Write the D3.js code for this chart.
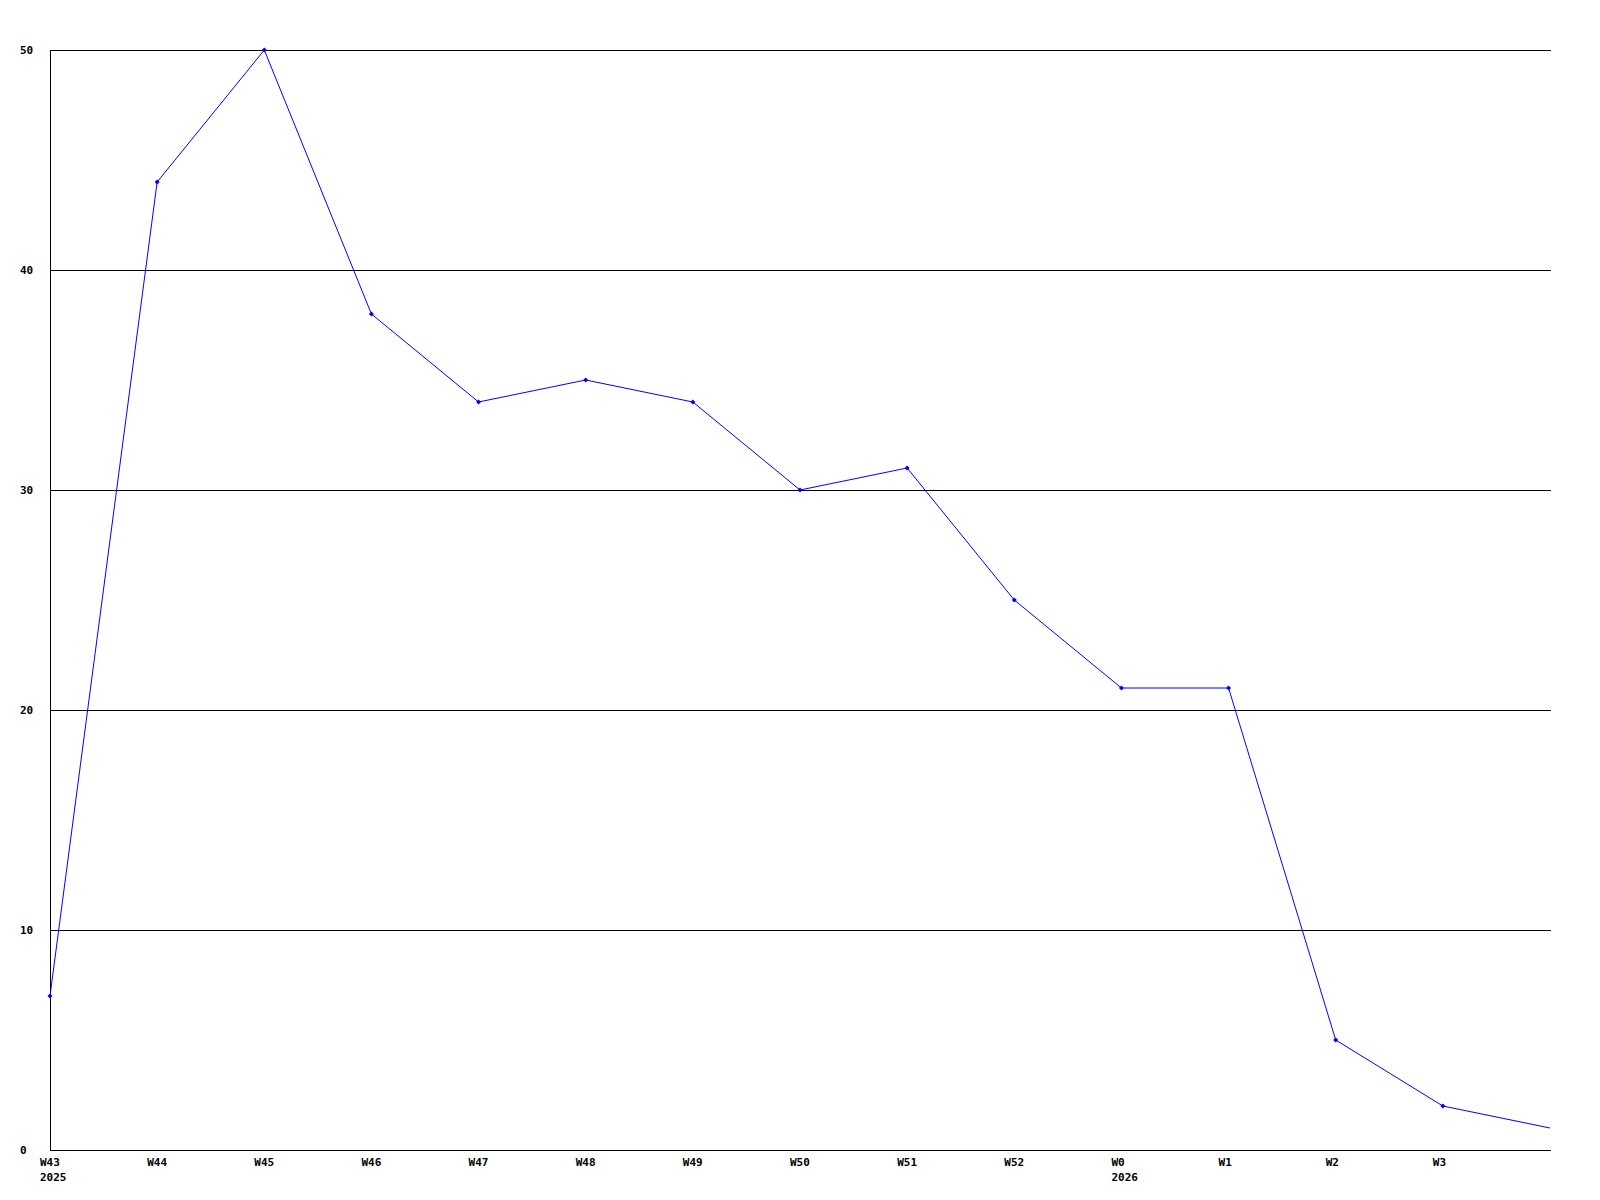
<!DOCTYPE html>
<html>
<head>
<meta charset="utf-8">
<script src="https://cdn.jsdelivr.net/npm/d3@7"></script>
<style>
  body { margin: 0; background: #fff; }
  svg text { font-family: "DejaVu Sans Mono", monospace; font-size: 11px; font-weight: bold; fill: #000; }
</style>
</head>
<body>
<svg id="chart" width="1600" height="1200"></svg>
<script>
// --- data ---
const weeks = ["W43", "W44", "W45", "W46", "W47", "W48", "W49", "W50", "W51", "W52", "W0", "W1", "W2", "W3", "W4"];
const years = { "W43": "2025", "W0": "2026" };
const counts = [7, 44, 50, 38, 34, 35, 34, 30, 31, 25, 21, 21, 5, 2, 1];
const yTicks = [0, 10, 20, 30, 40, 50];

const svg = d3.select("#chart");
const plotLeft = 50, plotRight = 1550, plotTop = 50, plotBottom = 1150;

const x = d3.scaleLinear().domain([0, weeks.length - 1]).range([plotLeft, plotRight]);
const y = d3.scaleLinear().domain([0, 50]).range([plotBottom, plotTop]);

// horizontal grid
svg.append("g").selectAll("line").data(yTicks.filter(d => d > 0)).enter().append("line")
    .attr("x1", plotLeft).attr("x2", plotRight + 1)
    .attr("y1", d => Math.round(y(d)) + 0.5).attr("y2", d => Math.round(y(d)) + 0.5)
    .attr("stroke", "#000").attr("shape-rendering", "crispEdges");

// axes
svg.append("line").attr("x1", plotLeft + 0.5).attr("x2", plotLeft + 0.5).attr("y1", plotTop).attr("y2", plotBottom + 1)
    .attr("stroke", "#000").attr("shape-rendering", "crispEdges");
svg.append("line").attr("x1", plotLeft).attr("x2", plotRight + 1).attr("y1", plotBottom + 0.5).attr("y2", plotBottom + 0.5)
    .attr("stroke", "#000").attr("shape-rendering", "crispEdges");

// y labels
svg.append("g").selectAll("text").data(yTicks).enter().append("text")
    .attr("x", 20).attr("y", d => y(d)).attr("dy", "0.35em")
    .text(d => d);

// x labels (last week has no label)
const xl = svg.append("g").selectAll("g").data(weeks.slice(0, -1)).enter().append("g")
    .attr("transform", (d, i) => `translate(${x(i) - 10},0)`);
xl.append("text").attr("y", 1166).text(d => d);
xl.filter(d => years[d]).append("text").attr("y", 1181).text(d => years[d]);

// series
const line = d3.line().x((d, i) => x(i)).y(d => y(d));
svg.append("path").datum(counts)
    .attr("d", line).attr("fill", "none").attr("stroke", "#0000ff").attr("stroke-width", 1);

// markers on every point but the last one, which sits on the plot edge
svg.append("g").selectAll("path").data(counts.slice(0, -1)).enter().append("path")
    .attr("transform", (d, i) => `translate(${x(i)},${y(d)})`)
    .attr("d", "M0,-2.5L2.5,0L0,2.5L-2.5,0Z")
    .attr("fill", "#0000ff");
</script>
</body>
</html>
